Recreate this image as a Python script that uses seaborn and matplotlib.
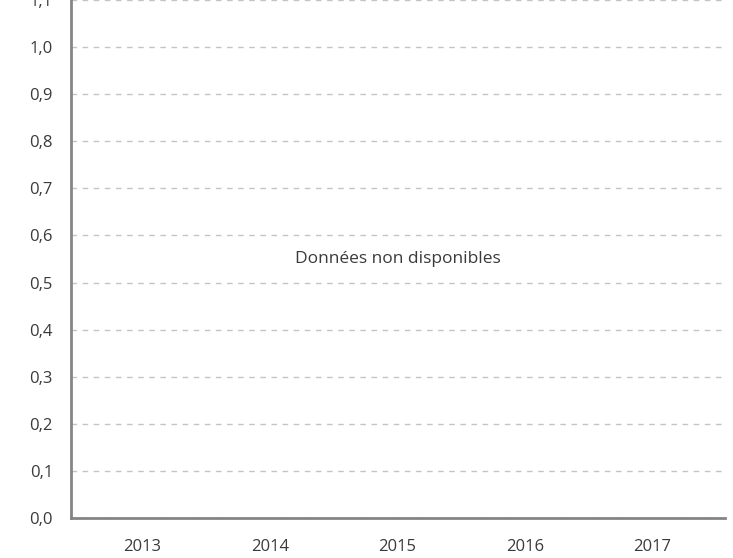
import numpy as np
import pandas as pd
import matplotlib
matplotlib.use("Agg")
import matplotlib.pyplot as plt
import seaborn as sns

# Data
years = [2013, 2014, 2015, 2016, 2017]
values = [np.nan, np.nan, np.nan, np.nan, np.nan]  # no data available
y_ticks = [0.0, 0.1, 0.2, 0.3, 0.4, 0.5, 0.6, 0.7, 0.8, 0.9, 1.0, 1.1]
message = "Données non disponibles"

df = pd.DataFrame({"year": years, "value": values})

sns.set_style("white")
plt.rcParams['font.family'] = ['Open Sans', 'DejaVu Sans']

fig = plt.figure(figsize=(7.33, 5.58), dpi=100)
ax = fig.add_axes([71 / 733, 40 / 558, 654 / 733, 518 / 558])

sns.lineplot(data=df, x="year", y="value", ax=ax)

ax.set_xlim(2012.44, 2017.57)
ax.set_ylim(0, 1.1)
ax.set_xticks(years)
ax.set_xticklabels([str(y) for y in years])
ax.set_yticks(y_ticks)
ax.set_yticklabels([f"{t:.1f}".replace(".", ",") for t in y_ticks])
ax.set_xlabel("")
ax.set_ylabel("")

# Grid
ax.yaxis.grid(True, color="#c4c4c4", linestyle=(0, (4, 4)), linewidth=1)
ax.xaxis.grid(False)
ax.set_axisbelow(True)

# Spines
for side in ["top", "right"]:
    ax.spines[side].set_visible(False)
for side in ["left", "bottom"]:
    ax.spines[side].set_color("#858585")
    ax.spines[side].set_linewidth(2)

ax.tick_params(axis="both", colors="#858585", labelcolor="#3a3a3a",
               labelsize=12, width=2, direction="out")
ax.tick_params(axis="x", length=5, pad=10)
ax.tick_params(axis="y", length=4, pad=9)

ax.text(0.5, 0.5, message, transform=ax.transAxes, ha="center", va="center",
        fontsize=12.5, color="#3a3a3a")

fig.savefig("out.png", dpi=100)
